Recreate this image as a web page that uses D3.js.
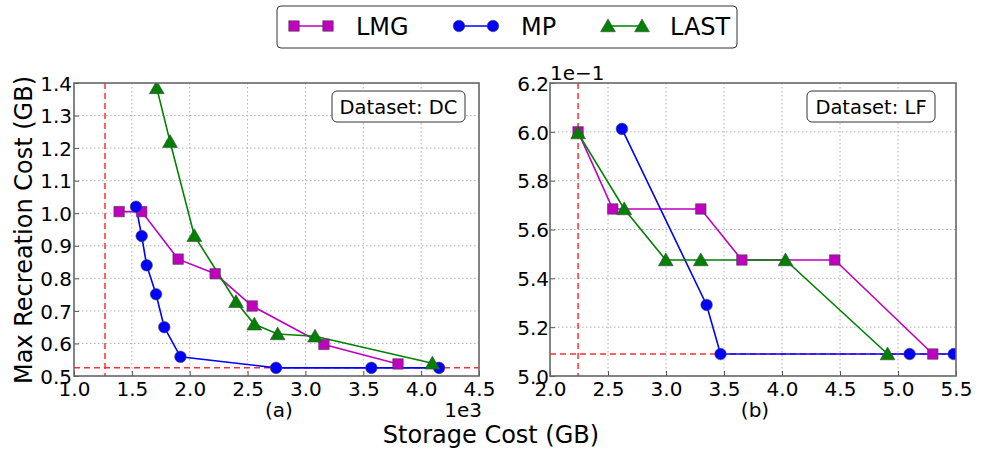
<!DOCTYPE html>
<html lang="en">
  <head>
    <meta charset="UTF-8">
    <title>Storage vs Max Recreation Cost</title>
    <style>
      body { margin: 0; background: #fff; }
      text { font-family: "DejaVu Sans", sans-serif; fill: #000; }
      .grid line { stroke: #b0b0b0; stroke-dasharray: 1.5,2.5; stroke-width: 1; }
      .axis path, .axis line { stroke: #555; }
      .axis text { font-size: 20px; }
      .frame { fill: none; stroke: #666; stroke-width: 1.6; }
    </style>
    <script src="https://d3js.org/d3.v7.min.js"></script>
  </head>
  <body>
    <script>
      // ---- data (x in 1e3 GB for DC, y in 1e-1 GB for LF) ----
      const seriesNames = ["LMG", "MP", "LAST"];

      const dcLMG_x = [1.39, 1.585, 1.90, 2.22, 2.54, 3.16, 3.80];
      const dcLMG_y = [1.005, 1.005, 0.859, 0.814, 0.715, 0.597, 0.537];
      const dcMP_x = [1.536, 1.585, 1.628, 1.709, 1.78, 1.92, 2.746, 3.57, 4.155];
      const dcMP_y = [1.02, 0.93, 0.84, 0.751, 0.650, 0.559, 0.525, 0.525, 0.525];
      const dcLAST_x = [1.715, 1.83, 2.04, 2.40, 2.558, 2.76, 3.083, 4.097];
      const dcLAST_y = [1.385, 1.22, 0.931, 0.728, 0.659, 0.629, 0.622, 0.539];
      const dcRefX = 1.268, dcRefY = 0.525;

      const lfLMG_x = [2.242, 2.541, 3.30, 3.654, 4.455, 5.30];
      const lfLMG_y = [6.0, 5.684, 5.684, 5.475, 5.475, 5.09];
      const lfMP_x = [2.62, 3.35, 3.47, 5.10, 5.48];
      const lfMP_y = [6.012, 5.291, 5.09, 5.09, 5.09];
      const lfLAST_x = [2.242, 2.64, 2.998, 3.30, 4.03, 4.91];
      const lfLAST_y = [5.995, 5.684, 5.475, 5.475, 5.475, 5.09];
      const lfRefX = 2.242, lfRefY = 5.09;

      const dcXTicks = [1.0, 1.5, 2.0, 2.5, 3.0, 3.5, 4.0, 4.5];
      const dcYTicks = [0.5, 0.6, 0.7, 0.8, 0.9, 1.0, 1.1, 1.2, 1.3, 1.4];
      const lfXTicks = [2.0, 2.5, 3.0, 3.5, 4.0, 4.5, 5.0, 5.5];
      const lfYTicks = [5.0, 5.2, 5.4, 5.6, 5.8, 6.0, 6.2];

      const colors = { LMG: "#bf00bf", MP: "#0000ff", LAST: "#008000" };
      const symbols = { LMG: d3.symbolSquare, MP: d3.symbolCircle, LAST: d3.symbolTriangle };
      const symSize = { LMG: 110, MP: 105, LAST: 95 };

      const W = 981, H = 455;
      const svg = d3.select("body").append("svg")
        .attr("width", W).attr("height", H);

      const zip = (xs, ys) => xs.map((x, i) => ({ x: x, y: ys[i] }));

      function drawPanel(opt) {
        const x = d3.scaleLinear().domain(opt.xDomain).range([opt.left, opt.right]);
        const y = d3.scaleLinear().domain(opt.yDomain).range([opt.bottom, opt.top]);
        const g = svg.append("g");

        g.append("defs").append("clipPath").attr("id", opt.id)
          .append("rect")
          .attr("x", opt.left).attr("y", opt.top)
          .attr("width", opt.right - opt.left).attr("height", opt.bottom - opt.top);

        // grid
        const grid = g.append("g").attr("class", "grid");
        grid.selectAll(".gx").data(opt.xTicks.slice(1, -1)).enter().append("line")
          .attr("x1", d => x(d)).attr("x2", d => x(d))
          .attr("y1", opt.top).attr("y2", opt.bottom);
        grid.selectAll(".gy").data(opt.yTicks.slice(1, -1)).enter().append("line")
          .attr("y1", d => y(d)).attr("y2", d => y(d))
          .attr("x1", opt.left).attr("x2", opt.right);

        // axes
        const xa = g.append("g").attr("class", "axis")
          .attr("transform", `translate(0,${opt.bottom})`)
          .call(d3.axisBottom(x).tickValues(opt.xTicks).tickFormat(d3.format(".1f")).tickSizeInner(-5).tickSizeOuter(0).tickPadding(6));
        xa.select(".domain").remove();
        const ya = g.append("g").attr("class", "axis")
          .attr("transform", `translate(${opt.left},0)`)
          .call(d3.axisLeft(y).tickValues(opt.yTicks).tickFormat(d3.format(".1f")).tickSizeInner(-5).tickSizeOuter(0).tickPadding(opt.yPad));
        ya.select(".domain").remove();
        ya.selectAll("text").attr("dy", "0.36em");

        // reference lines
        const ref = g.append("g").attr("clip-path", `url(#${opt.id})`);
        ref.append("line")
          .attr("x1", x(opt.refX)).attr("x2", x(opt.refX))
          .attr("y1", opt.top).attr("y2", opt.bottom)
          .attr("stroke", "#ff3030").attr("stroke-width", 1.5).attr("stroke-dasharray", "6,4");

        // series
        const plot = g.append("g").attr("clip-path", `url(#${opt.id})`);
        const line = d3.line().x(d => x(d.x)).y(d => y(d.y));
        seriesNames.forEach(name => {
          const pts = opt.series[name];
          plot.append("path").datum(pts)
            .attr("d", line).attr("fill", "none")
            .attr("stroke", colors[name]).attr("stroke-width", 1.6);
        });
        ref.append("line")
          .attr("x1", opt.left).attr("x2", opt.right)
          .attr("y1", y(opt.refY)).attr("y2", y(opt.refY))
          .attr("stroke", "#ff3030").attr("stroke-width", 1.5).attr("stroke-dasharray", "6,4");
        seriesNames.forEach(name => {
          const pts = opt.series[name];
          plot.selectAll(".m" + name).data(pts).enter().append("path")
            .attr("d", d3.symbol().type(symbols[name]).size(symSize[name]))
            .attr("transform", d => `translate(${x(d.x)},${y(d.y) + (name === "LAST" ? 1.5 : 0)})`)
            .attr("fill", colors[name]).attr("stroke", "#444").attr("stroke-width", 0.6);
        });

        // frame
        g.append("rect").attr("class", "frame")
          .attr("x", opt.left).attr("y", opt.top)
          .attr("width", opt.right - opt.left).attr("height", opt.bottom - opt.top);

        // dataset box
        const bx = g.append("g").attr("transform", `translate(${opt.boxX},91)`);
        bx.append("rect").attr("width", opt.boxW).attr("height", 31).attr("rx", 5)
          .attr("fill", "#fff").attr("stroke", "#333").attr("stroke-width", 1);
        bx.append("text").attr("x", opt.boxW / 2).attr("y", 23)
          .attr("text-anchor", "middle").style("font-size", "19.5px").text(opt.label);

        // sub caption
        g.append("text").attr("x", opt.capX).attr("y", 417)
          .attr("text-anchor", "middle").style("font-size", "20px").text(opt.caption);
      }

      drawPanel({
        id: "clipA", left: 74, right: 479, top: 83, bottom: 376,
        xDomain: [1.0, 4.5], yDomain: [0.5, 1.4],
        xTicks: dcXTicks, yTicks: dcYTicks, yPad: 2,
        refX: dcRefX, refY: dcRefY,
        series: { LMG: zip(dcLMG_x, dcLMG_y), MP: zip(dcMP_x, dcMP_y), LAST: zip(dcLAST_x, dcLAST_y) },
        label: "Dataset: DC", boxX: 332, boxW: 133, caption: "(a)", capX: 279
      });
      drawPanel({
        id: "clipB", left: 550, right: 956, top: 83, bottom: 376,
        xDomain: [2.0, 5.5], yDomain: [5.0, 6.2],
        xTicks: lfXTicks, yTicks: lfYTicks, yPad: 1,
        refX: lfRefX, refY: lfRefY,
        series: { LMG: zip(lfLMG_x, lfLMG_y), MP: zip(lfMP_x, lfMP_y), LAST: zip(lfLAST_x, lfLAST_y) },
        label: "Dataset: LF", boxX: 807, boxW: 128, caption: "(b)", capX: 755
      });

      // offset labels
      svg.append("text").attr("x", 482).attr("y", 417).attr("text-anchor", "end")
        .style("font-size", "20px").text("1e3");
      svg.append("text").attr("x", 550).attr("y", 80)
        .style("font-size", "20px").text("1e\u22121");

      // axis titles
      svg.append("text").attr("x", 491).attr("y", 443).attr("text-anchor", "middle")
        .style("font-size", "24px").text("Storage Cost (GB)");
      svg.append("text").attr("transform", "translate(32,230) rotate(-90)")
        .attr("text-anchor", "middle").style("font-size", "24px").text("Max Recreation Cost (GB)");

      // legend
      const lg = svg.append("g");
      lg.append("rect").attr("x", 277).attr("y", 6).attr("width", 460).attr("height", 42).attr("rx", 4)
        .attr("fill", "#fff").attr("stroke", "#333").attr("stroke-width", 1);
      const legendX = { LMG: 294, MP: 459, LAST: 608 };
      seriesNames.forEach(name => {
        const x0 = legendX[name];
        lg.append("line").attr("x1", x0).attr("x2", x0 + 34).attr("y1", 26).attr("y2", 26)
          .attr("stroke", colors[name]).attr("stroke-width", 1.6);
        [x0, x0 + 34].forEach(px => {
          lg.append("path")
            .attr("d", d3.symbol().type(symbols[name]).size(symSize[name]))
            .attr("transform", `translate(${px},${26 + (name === "LAST" ? 1.5 : 0)})`)
            .attr("fill", colors[name]).attr("stroke", "#444").attr("stroke-width", 0.6);
        });
        lg.append("text").attr("x", x0 + 62).attr("y", 35)
          .style("font-size", "24px").text(name);
      });
    </script>
  </body>
</html>
